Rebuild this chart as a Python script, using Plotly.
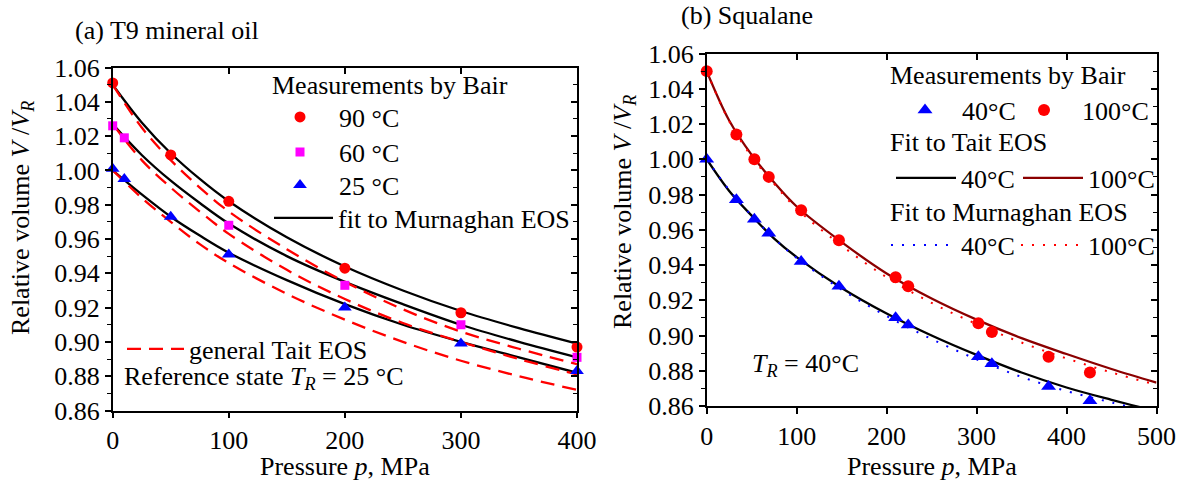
import plotly.graph_objects as go

W, H = 1187, 482
FONT = "Liberation Serif"
FS = 26

# ---------------- (a) T9 mineral oil ----------------
p90 = [0, 50, 100, 200, 300, 400]
v90 = [1.051, 1.009, 0.982, 0.943, 0.917, 0.897]
p60 = [0, 10, 100, 200, 300, 400]
v60 = [1.026, 1.019, 0.968, 0.933, 0.910, 0.891]
p25 = [0, 10, 50, 100, 200, 300, 400]
v25 = [1.001, 0.995, 0.973, 0.951, 0.920, 0.899, 0.883]

p_fit_a = [0, 25, 50, 75, 100, 150, 200, 250, 300, 350, 400]
murn90 = [1.050, 1.028, 1.010, 0.995, 0.982, 0.961, 0.944, 0.930, 0.918, 0.908, 0.899]
murn60 = [1.027, 1.009, 0.994, 0.981, 0.969, 0.950, 0.935, 0.922, 0.910, 0.900, 0.891]
murn25 = [1.000, 0.986, 0.973, 0.962, 0.952, 0.936, 0.922, 0.910, 0.900, 0.891, 0.882]
tait90 = [1.050, 1.025, 1.006, 0.990, 0.976, 0.954, 0.935, 0.919, 0.906, 0.896, 0.887]
tait60 = [1.027, 1.006, 0.990, 0.976, 0.963, 0.942, 0.925, 0.911, 0.900, 0.890, 0.881]
tait25 = [1.000, 0.984, 0.970, 0.957, 0.946, 0.928, 0.913, 0.900, 0.889, 0.880, 0.872]

# ---------------- (b) Squalane ----------------
p_sq = [0, 33, 53, 69, 105, 147, 210, 224, 302, 317, 380, 426]
v40 = [1.000, 0.977, 0.966, 0.958, 0.942, 0.928, 0.910, 0.906, 0.888, 0.884, 0.871, 0.863]
v100 = [1.050, 1.014, 1.000, 0.990, 0.971, 0.954, 0.933, 0.928, 0.907, 0.902, 0.888, 0.879]

p_fit_b = [0, 25, 50, 75, 100, 150, 200, 250, 300, 350, 400, 450, 500]
tait40 = [1.000, 0.982, 0.968, 0.955, 0.9445, 0.927, 0.9125, 0.900, 0.889, 0.879, 0.8705, 0.8635, 0.857]
tait100 = [1.050, 1.022, 1.0025, 0.9868, 0.9732, 0.953, 0.9352, 0.921, 0.909, 0.8985, 0.8895, 0.881, 0.8733]
murn40 = [1.000, 0.9825, 0.968, 0.955, 0.944, 0.926, 0.911, 0.898, 0.8865, 0.8765, 0.8685, 0.862, 0.856]
murn100 = [1.050, 1.0215, 1.0015, 0.986, 0.972, 0.951, 0.933, 0.9185, 0.9065, 0.896, 0.887, 0.879, 0.872]

y_ticks = [0.86, 0.88, 0.90, 0.92, 0.94, 0.96, 0.98, 1.00, 1.02, 1.04, 1.06]


def px(x):
    return x / W


def py(y):
    return 1 - y / H


RED = "#FF0000"
MAG = "#FF00FF"
BLUE = "#0000FF"
WINE = "#8B0000"

fig = go.Figure()

# ----- panel (a) lines -----
for i, v in enumerate([murn90, murn60, murn25]):
    fig.add_trace(go.Scatter(x=p_fit_a, y=v, mode="lines", line=dict(color="black", width=2.3, shape="spline"),
                             name="fit to Murnaghan EOS", showlegend=(i == 0), legend="legend4",
                             xaxis="x", yaxis="y"))
for i, v in enumerate([tait90, tait60, tait25]):
    fig.add_trace(go.Scatter(x=p_fit_a, y=v, mode="lines",
                             line=dict(color=RED, width=2.3, dash="14px,8px", shape="spline"),
                             name="general Tait EOS", showlegend=(i == 0), legend="legend5",
                             xaxis="x", yaxis="y"))
# markers (a)
fig.add_trace(go.Scatter(x=p90, y=v90, mode="markers", marker=dict(color=RED, size=11, symbol="circle"),
                         name="90 °C", legend="legend", cliponaxis=False, xaxis="x", yaxis="y"))
fig.add_trace(go.Scatter(x=p60, y=v60, mode="markers", marker=dict(color=MAG, size=9, symbol="square"),
                         name="60 °C", legend="legend2", cliponaxis=False, xaxis="x", yaxis="y"))
fig.add_trace(go.Scatter(x=p25, y=v25, mode="markers", marker=dict(color=BLUE, size=12, symbol="triangle-up"),
                         name="25 °C", legend="legend3", cliponaxis=False, xaxis="x", yaxis="y"))

# ----- panel (b) -----
fig.add_trace(go.Scatter(x=p_fit_b, y=tait40, mode="lines", line=dict(color="black", width=2.3, shape="spline"),
                         name="40°C", legend="legend8", xaxis="x2", yaxis="y2"))
fig.add_trace(go.Scatter(x=p_fit_b, y=tait100, mode="lines", line=dict(color=WINE, width=2.3, shape="spline"),
                         name="100°C", legend="legend9", xaxis="x2", yaxis="y2"))
fig.add_trace(go.Scatter(x=p_fit_b, y=murn40, mode="lines",
                         line=dict(color=BLUE, width=2, dash="2px,9px", shape="spline"),
                         name="40°C", legend="legend10", xaxis="x2", yaxis="y2"))
fig.add_trace(go.Scatter(x=p_fit_b, y=murn100, mode="lines",
                         line=dict(color=RED, width=2, dash="2px,9px", shape="spline"),
                         name="100°C", legend="legend11", xaxis="x2", yaxis="y2"))
fig.add_trace(go.Scatter(x=p_sq, y=v40, mode="markers", marker=dict(color=BLUE, size=13, symbol="triangle-up"),
                         name="40°C", legend="legend6", cliponaxis=False, xaxis="x2", yaxis="y2"))
fig.add_trace(go.Scatter(x=p_sq, y=v100, mode="markers", marker=dict(color=RED, size=12, symbol="circle"),
                         name="100°C", legend="legend7", cliponaxis=False, xaxis="x2", yaxis="y2"))

# dummy traces for inward mirror-tick axes
for xa, ya in [("x3", "y3"), ("x4", "y4")]:
    fig.add_trace(go.Scatter(x=[None], y=[None], xaxis=xa, yaxis=ya, showlegend=False, hoverinfo="skip"))

tickfont = dict(family=FONT, size=FS, color="black")


def main_x(rng, dom, anchor):
    return dict(domain=dom, range=rng, dtick=100, tick0=0, ticks="outside", ticklen=6, tickwidth=1.5,
                tickcolor="black", showline=True, linecolor="black", linewidth=1.5, mirror=True,
                showgrid=False, zeroline=False, tickfont=tickfont, anchor=anchor, fixedrange=True,
                automargin=False)


def main_y(dom, anchor):
    return dict(domain=dom, range=[0.86, 1.06], tickvals=y_ticks, tickformat=".2f", ticks="outside",
                ticklen=6, tickwidth=1.5, tickcolor="black", showline=True, linecolor="black", linewidth=1.5,
                mirror=True, showgrid=False, zeroline=False, tickfont=tickfont, anchor=anchor, fixedrange=True,
                automargin=False,
                minor=dict(dtick=0.01, tick0=0.86, ticks="outside", ticklen=4, tickwidth=1.2, tickcolor="black",
                           showgrid=False))


def mirror_x(rng, over, anchor):
    return dict(overlaying=over, side="top", anchor=anchor, range=rng, dtick=100, tick0=0, ticks="inside",
                ticklen=6, tickwidth=1.5, tickcolor="black", showticklabels=False, showline=False,
                showgrid=False, zeroline=False, fixedrange=True)


def mirror_y(over, anchor):
    return dict(overlaying=over, side="right", anchor=anchor, range=[0.86, 1.06], tickvals=y_ticks,
                ticks="inside", ticklen=6, tickwidth=1.5, tickcolor="black", showticklabels=False,
                showline=False, showgrid=False, zeroline=False, fixedrange=True,
                minor=dict(dtick=0.01, tick0=0.86, ticks="inside", ticklen=4, tickwidth=1.2, tickcolor="black",
                           showgrid=False))


xa_dom = [px(112.7), px(577)]
ya_dom = [py(410.5), py(67.5)]
xb_dom = [px(706.7), px(1156.5)]
yb_dom = [py(406), py(53.5)]

legfont = dict(family=FONT, size=FS, color="black")


def leg(x, y, iw):
    # x: left edge of the legend entry, y: vertical centre of the entry (pixels)
    return dict(x=px(x), y=py(y), xanchor="left", yanchor="middle", bgcolor="rgba(0,0,0,0)", borderwidth=0,
                font=legfont, orientation="v", tracegroupgap=0, itemclick=False, itemdoubleclick=False,
                itemwidth=iw)


legends = {
    "legend": leg(261, 117, 68),
    "legend2": leg(261, 152, 68),
    "legend3": leg(261, 185, 68),
    "legend4": leg(269, 218, 59),
    "legend5": leg(122, 349, 57),
    "legend6": leg(888, 110, 64),
    "legend7": leg(1006, 110, 66),
    "legend8": leg(891, 178, 60),
    "legend9": leg(1018, 178, 60),
    "legend10": leg(886, 245, 65),
    "legend11": leg(1016, 245, 62),
}

fig.update_layout(
    width=W, height=H, margin=dict(l=0, r=0, t=0, b=0, pad=0, autoexpand=False),
    paper_bgcolor="white", plot_bgcolor="white",
    font=dict(family=FONT, size=FS, color="black"),
    xaxis=main_x([0, 400], xa_dom, "y"),
    yaxis=main_y(ya_dom, "x"),
    xaxis2=main_x([0, 500], xb_dom, "y2"),
    yaxis2=main_y(yb_dom, "x2"),
    xaxis3=mirror_x([0, 400], "x", "y3"),
    yaxis3=mirror_y("y", "x3"),
    xaxis4=mirror_x([0, 500], "x2", "y4"),
    yaxis4=mirror_y("y2", "x4"),
    showlegend=True,
    **legends,
)

ann = []


def text(x, y, t, xanchor="left", angle=0):
    ann.append(dict(x=px(x), y=py(y), xref="paper", yref="paper", text=t, showarrow=False,
                    xanchor=xanchor, yanchor="middle", textangle=angle,
                    font=dict(family=FONT, size=FS, color="black")))


text(73, 30, "(a) T9 mineral oil")
text(679, 16, "(b) Squalane")
text(270, 85, "Measurements by Bair")
text(888, 75, "Measurements by Bair")
text(888, 142, "Fit to Tait EOS")
text(888, 212, "Fit to Murnaghan EOS")
text(122, 378, "Reference state <i>T</i><sub><i>R</i></sub> = 25 °C")
text(750, 365, "<i>T</i><sub><i>R</i></sub> = 40°C")
text(345, 466, "Pressure <i>p</i>, MPa", xanchor="center")
text(931.6, 466, "Pressure <i>p</i>, MPa", xanchor="center")
text(22, 218, "Relative volume <i>V</i> /<i>V</i><sub><i>R</i></sub>", xanchor="center", angle=-90)
text(624, 212, "Relative volume <i>V</i> /<i>V</i><sub><i>R</i></sub>", xanchor="center", angle=-90)
fig.update_layout(annotations=ann)

fig.write_html("out.html", config={"displayModeBar": False},
               post_script="document.body.style.margin='0';")
